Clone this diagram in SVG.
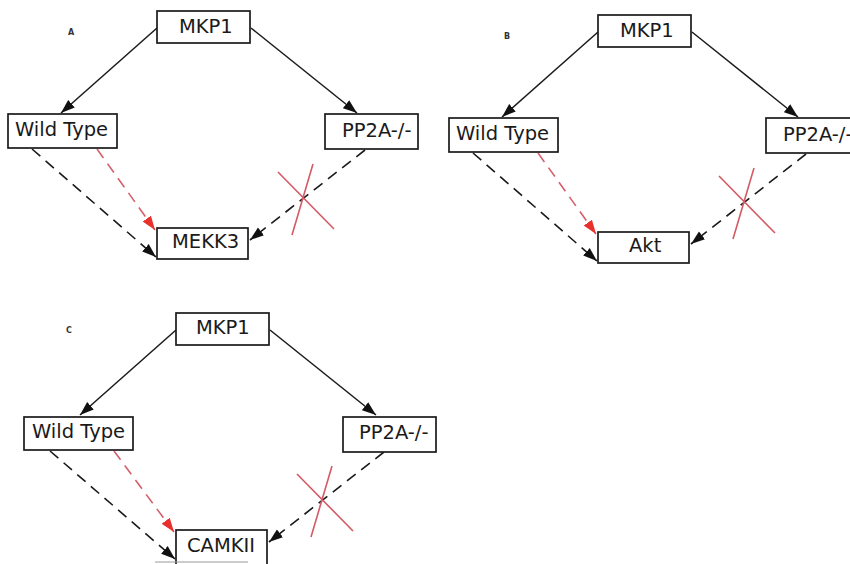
<svg xmlns="http://www.w3.org/2000/svg" width="850" height="564" viewBox="0 0 850 564">
  <style>
    .box { fill: #ffffff; stroke: #1a1a1a; stroke-width: 1.7; }
    .lbl { font-family: "DejaVu Sans", "Liberation Sans", sans-serif; font-size: 19.5px; fill: #1a1a1a; }
    .tag { font-family: "DejaVu Sans", "Liberation Sans", sans-serif; font-size: 8px; font-weight: bold; fill: #333333; }
    .solid { fill: none; stroke: #1a1a1a; stroke-width: 1.5; marker-end: url(#arrowBlack); }
    .dash { fill: none; stroke: #1a1a1a; stroke-width: 1.6; stroke-dasharray: 11 7; marker-end: url(#arrowBlack); }
    .dashRed { fill: none; stroke: #d4606c; stroke-width: 1.6; stroke-dasharray: 11 7; marker-end: url(#arrowRed); }
    .cross { fill: none; stroke: #d45a64; stroke-width: 1.6; }
  </style>
  <defs>
    <marker id="arrowBlack" markerUnits="userSpaceOnUse" markerWidth="15" markerHeight="11" refX="14" refY="5.5" orient="auto">
      <path d="M0,0.5 L14,5.5 L0,10.5 z" fill="#111111"/>
    </marker>
    <marker id="arrowRed" markerUnits="userSpaceOnUse" markerWidth="15" markerHeight="11" refX="14" refY="5.5" orient="auto">
      <path d="M0,0.5 L14,5.5 L0,10.5 z" fill="#e8302c"/>
    </marker>
  </defs>
  <rect width="850" height="564" fill="#ffffff"/>

  <!-- Panel A -->
  <g id="panel-a">
    <text class="tag" x="68" y="35">A</text>
    <g id="a-connectors">
      <path class="solid" d="M157,28 L61,113"/>
      <path class="solid" d="M251,28 L357,113"/>
      <path class="dash" d="M32,149 L156,257"/>
      <path class="dashRed" d="M97,149 L155,230"/>
      <path class="dash" d="M365,150 L250,240"/>
      <path class="cross" d="M278,172 L334,229 M313,164 L292,235"/>
    </g>
    <g id="a-mkp1"><rect class="box" x="157" y="11" width="93" height="32"/><text class="lbl" x="179" y="33">MKP1</text></g>
    <g id="a-wildtype"><rect class="box" x="8" y="114" width="109" height="34"/><text class="lbl" x="15" y="136">Wild Type</text></g>
    <g id="a-pp2a"><rect class="box" x="325" y="114" width="93" height="35"/><text class="lbl" x="342" y="137">PP2A-/-</text></g>
    <g id="a-mekk3"><rect class="box" x="157" y="228" width="91" height="31"/><text class="lbl" x="172" y="248">MEKK3</text></g>
  </g>

  <!-- Panel B -->
  <g id="panel-b" transform="translate(441,4)">
    <text class="tag" x="63" y="35">B</text>
    <g id="b-connectors">
      <path class="solid" d="M157,28 L61,113"/>
      <path class="solid" d="M251,28 L357,113"/>
      <path class="dash" d="M32,149 L156,257"/>
      <path class="dashRed" d="M97,149 L155,230"/>
      <path class="dash" d="M365,150 L250,240"/>
      <path class="cross" d="M278,172 L334,229 M313,164 L292,235"/>
    </g>
    <g id="b-mkp1"><rect class="box" x="157" y="11" width="93" height="32"/><text class="lbl" x="179" y="33">MKP1</text></g>
    <g id="b-wildtype"><rect class="box" x="8" y="114" width="109" height="34"/><text class="lbl" x="15" y="136">Wild Type</text></g>
    <g id="b-pp2a"><rect class="box" x="325" y="114" width="93" height="35"/><text class="lbl" x="342" y="137">PP2A-/-</text></g>
    <g id="b-akt"><rect class="box" x="157" y="228" width="91" height="31"/><text class="lbl" x="188" y="248">Akt</text></g>
  </g>

  <!-- Panel C -->
  <g id="panel-c" transform="translate(19,302)">
    <text class="tag" x="47" y="31">C</text>
    <g id="c-connectors">
      <path class="solid" d="M157,28 L61,113"/>
      <path class="solid" d="M251,28 L357,113"/>
      <path class="dash" d="M31,149 L156,257"/>
      <path class="dashRed" d="M95,149 L155,230"/>
      <path class="dash" d="M365,150 L250,240"/>
      <path class="cross" d="M278,172 L334,229 M313,164 L292,235"/>
    </g>
    <g id="c-mkp1"><rect class="box" x="157" y="11" width="93" height="32"/><text class="lbl" x="177" y="32">MKP1</text></g>
    <g id="c-wildtype"><rect class="box" x="5" y="115" width="109" height="33"/><text class="lbl" x="13" y="136">Wild Type</text></g>
    <g id="c-pp2a"><rect class="box" x="324" y="115" width="93" height="35"/><text class="lbl" x="340" y="137">PP2A-/-</text></g>
    <g id="c-camkii"><rect class="box" x="157" y="228" width="91" height="40"/><text class="lbl" x="168" y="250">CAMKII</text></g>
    <line x1="136" y1="260" x2="229" y2="260" stroke="#9a9a9a" stroke-width="1"/>
  </g>
</svg>
